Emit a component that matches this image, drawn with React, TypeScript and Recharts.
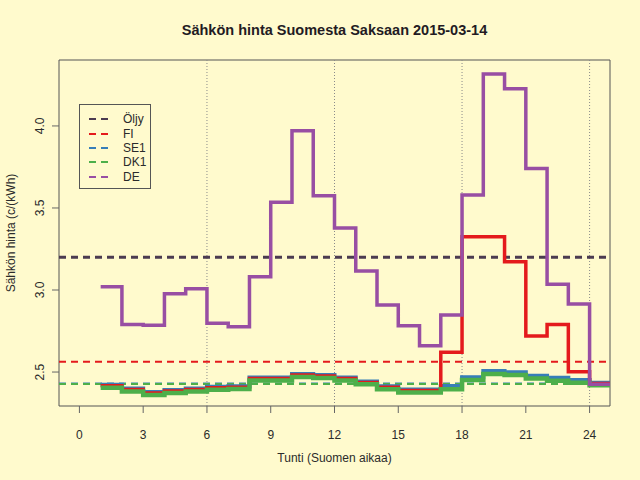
import { LineChart, Line, XAxis, YAxis, ReferenceLine, ReferenceArea } from "recharts";

document.body.style.margin = "0";
document.body.style.background = "#FFFACD";

const hours = [1, 2, 3, 4, 5, 6, 7, 8, 9, 10, 11, 12, 13, 14, 15, 16, 17, 18, 19, 20, 21, 22, 23, 24, 25];

const fiPrice = [2.417, 2.394, 2.372, 2.384, 2.394, 2.404, 2.408, 2.461, 2.461, 2.482, 2.476, 2.461, 2.437, 2.407, 2.388, 2.388, 2.62, 3.325, 3.325, 3.173, 2.72, 2.79, 2.502, 2.43];
const se1Price = [2.423, 2.4, 2.378, 2.39, 2.4, 2.41, 2.414, 2.467, 2.467, 2.488, 2.482, 2.467, 2.443, 2.413, 2.394, 2.394, 2.415, 2.468, 2.506, 2.498, 2.477, 2.465, 2.451, 2.435];
const dk1Price = [2.405, 2.382, 2.36, 2.372, 2.382, 2.392, 2.396, 2.449, 2.449, 2.47, 2.464, 2.449, 2.425, 2.395, 2.376, 2.376, 2.395, 2.451, 2.488, 2.482, 2.461, 2.447, 2.435, 2.419];
const dePrice = [3.02, 2.79, 2.785, 2.977, 3.008, 2.797, 2.776, 3.081, 3.535, 3.97, 3.575, 3.378, 3.116, 2.909, 2.782, 2.66, 2.848, 3.579, 4.317, 4.227, 3.74, 3.035, 2.915, 2.425];

// dashed reference levels (Öljy, FI, SE1, DK1)
const levelNames = ["Öljy", "FI", "SE1", "DK1"];
const levelValues = [3.2, 2.563, 2.43, 2.427];

const xTicks = [0, 3, 6, 9, 12, 15, 18, 21, 24];
const yTicks = [2.5, 3.0, 3.5, 4.0];
const dottedHours = [6, 12, 18, 24];
const xDomain = [-0.96, 24.96];
const yDomain = [2.293, 4.402];

const legendNames = ["Öljy", "FI", "SE1", "DK1", "DE"];
const colors: Record<string, string> = {
  "Öljy": "#4b3b50",
  FI: "#E41A1C",
  SE1: "#377EB8",
  DK1: "#4DAF4A",
  DE: "#984EA3",
};

const rows = hours.map((hour, i) => {
  const k = Math.min(i, fiPrice.length - 1);
  return { hour, fi: fiPrice[k], se1: se1Price[k], dk1: dk1Price[k], de: dePrice[k] };
});

const font = "'Liberation Sans', Arial, Helvetica, sans-serif";
const textColor = "#2b2b2b";

function XTick({ x, y, payload }: any) {
  return (
    <text x={x} y={y + 24} textAnchor="middle" fontSize={12} fill={textColor} fontFamily={font}>
      {payload.value}
    </text>
  );
}

function YTick({ y, payload }: any) {
  return (
    <text x={44} y={y} transform={`rotate(-90, 44, ${y})`} textAnchor="middle" fontSize={12} fill={textColor} fontFamily={font}>
      {Number(payload.value).toFixed(1)}
    </text>
  );
}

function LegendBox() {
  return (
    <div
      style={{
        position: "absolute",
        left: 79,
        top: 104,
        width: 72,
        height: 85,
        border: "1px solid #555",
        boxSizing: "border-box",
        fontFamily: font,
        fontSize: 12,
        color: textColor,
        paddingTop: 7,
      }}
    >
      {legendNames.map((name) => (
        <div key={name} style={{ display: "flex", alignItems: "center", height: 14.4 }}>
          <svg width={40} height={10} style={{ flex: "none" }}>
            <line x1={9} x2={30} y1={5} y2={5} stroke={colors[name]} strokeWidth={2} strokeDasharray="7 5" />
          </svg>
          <span style={{ marginLeft: 3 }}>{name}</span>
        </div>
      ))}
    </div>
  );
}

export default function App() {
  return (
    <div style={{ position: "relative", width: 640, height: 480, background: "#FFFACD", fontFamily: font }}>
      <LineChart width={640} height={480} data={rows} margin={{ top: 60, right: 30, left: 19, bottom: 44 }}>
        <XAxis
          dataKey="hour"
          type="number"
          domain={xDomain}
          allowDataOverflow
          ticks={xTicks}
          interval={0}
          axisLine={false}
          tickSize={7}
          tickLine={{ stroke: "#666" }}
          tick={<XTick />}
          height={30}
        />
        <YAxis
          type="number"
          domain={yDomain}
          allowDataOverflow
          ticks={yTicks}
          interval={0}
          axisLine={false}
          tickSize={7}
          tickLine={{ stroke: "#666" }}
          tick={<YTick />}
          width={40}
        />
        {dottedHours.map((h) => (
          <ReferenceLine key={h} x={h} stroke="#8a8a8a" strokeDasharray="1 2" strokeWidth={1} />
        ))}
        {levelNames.map((name, i) => (
          <ReferenceLine
            key={name}
            y={levelValues[i]}
            stroke={colors[name]}
            strokeWidth={name === "Öljy" ? 3 : 2}
            strokeDasharray="7 5"
          />
        ))}
        <Line type="stepAfter" dataKey="se1" stroke={colors.SE1} strokeWidth={4} dot={false} isAnimationActive={false} />
        <Line type="stepAfter" dataKey="fi" stroke={colors.FI} strokeWidth={3.5} dot={false} isAnimationActive={false} />
        <Line type="stepAfter" dataKey="dk1" stroke={colors.DK1} strokeWidth={4.5} dot={false} isAnimationActive={false} />
        <Line type="stepAfter" dataKey="de" stroke={colors.DE} strokeWidth={3.5} dot={false} isAnimationActive={false} />
        <ReferenceArea x1={xDomain[0]} x2={xDomain[1]} y1={yDomain[0]} y2={yDomain[1]} fill="none" stroke="#555" strokeWidth={1} />
      </LineChart>
      <svg width={640} height={480} style={{ position: "absolute", left: 0, top: 0, pointerEvents: "none" }}>
        <text x={334.5} y={35} textAnchor="middle" fontSize={14.5} fontWeight="bold" fill="#231a23" fontFamily={font}>
          Sähkön hinta Suomesta Saksaan 2015-03-14
        </text>
        <text x={334.5} y={462} textAnchor="middle" fontSize={12} fill={textColor} fontFamily={font}>
          Tunti (Suomen aikaa)
        </text>
        <text x={15} y={233} transform="rotate(-90, 15, 233)" textAnchor="middle" fontSize={12} fill={textColor} fontFamily={font}>
          Sähkön hinta (c/(kWh)
        </text>
      </svg>
      <LegendBox />
    </div>
  );
}
